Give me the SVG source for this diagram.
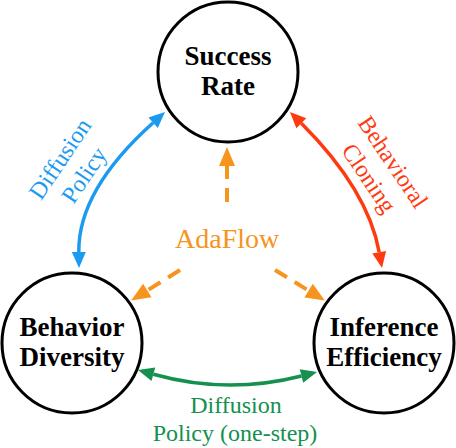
<svg xmlns="http://www.w3.org/2000/svg" width="456" height="448" viewBox="0 0 456 448">
<style>
.node circle{fill:#fff;stroke:#000;stroke-width:3}
.arc{fill:none;stroke-width:3.5}
.dash{fill:none;stroke:#f7941d;stroke-width:4;stroke-dasharray:14 9}
</style>
<defs>
<marker id="mb" markerUnits="userSpaceOnUse" viewBox="0 -7 16 14" refX="0" refY="0" markerWidth="16" markerHeight="14" orient="auto-start-reverse" overflow="visible"><path d="M0,-7 L16,0 L0,7 z" fill="#1a9bf0"/></marker>
<marker id="mr" markerUnits="userSpaceOnUse" viewBox="0 -7 16 14" refX="0" refY="0" markerWidth="16" markerHeight="14" orient="auto-start-reverse" overflow="visible"><path d="M0,-7 L16,0 L0,7 z" fill="#ff3a10"/></marker>
<marker id="mg" markerUnits="userSpaceOnUse" viewBox="0 -7 16 14" refX="0" refY="0" markerWidth="16" markerHeight="14" orient="auto-start-reverse" overflow="visible"><path d="M0,-7 L16,0 L0,7 z" fill="#15904f"/></marker>
<marker id="mo" markerUnits="userSpaceOnUse" viewBox="0 -8 19 16" refX="0" refY="0" markerWidth="19" markerHeight="16" orient="auto" overflow="visible"><path d="M0,-8 L19,0 L0,8 z" fill="#f7941d"/></marker>
</defs>
<g id="connectors">
<path class="arc" stroke="#1a9bf0" d="M153.1,122.7 Q78,190 78.8,252" marker-start="url(#mb)" marker-end="url(#mb)"/>
<path class="arc" stroke="#ff3a10" d="M301.3,123.3 Q368,190 379.2,252.2" marker-start="url(#mr)" marker-end="url(#mr)"/>
<path class="arc" stroke="#15904f" d="M153.4,374.3 Q227,395 301.5,376" marker-start="url(#mg)" marker-end="url(#mg)"/>
<path class="dash" d="M227,202 L227,166" marker-end="url(#mo)"/>
<path class="dash" d="M180,270 L147.3,290.5" marker-end="url(#mo)"/>
<path class="dash" d="M275,270 L308.6,290.6" marker-end="url(#mo)"/>
<g transform="translate(72,167) rotate(-56)"><text font-family="Times New Roman" font-size="24" text-anchor="middle" fill="#1a9bf0"><tspan x="0" y="-6.5">Diffusion</tspan><tspan x="0" y="22.5">Policy</tspan></text></g>
<g transform="translate(381,170) rotate(56)"><text font-family="Times New Roman" font-size="24" text-anchor="middle" fill="#ff3a10"><tspan x="0" y="-6.5">Behavioral</tspan><tspan x="0" y="22.5">Cloning</tspan></text></g>
<text font-family="Times New Roman" font-size="24" text-anchor="middle" fill="#15904f" x="236" y="413">Diffusion</text>
<text font-family="Times New Roman" font-size="24" text-anchor="middle" fill="#15904f" x="235" y="441">Policy (one-step)</text>
<text font-family="Times New Roman" font-size="28" fill="#f7941d" x="175" y="248">AdaFlow</text>
</g>
<g id="success" class="node"><circle cx="228" cy="72" r="70"/><text font-family="Times New Roman" font-weight="bold" font-size="27" text-anchor="middle" x="228" y="65">Success</text><text font-family="Times New Roman" font-weight="bold" font-size="27" text-anchor="middle" x="228" y="95">Rate</text></g>
<g id="diversity" class="node"><circle cx="72" cy="343" r="70"/><text font-family="Times New Roman" font-weight="bold" font-size="27" text-anchor="middle" x="72" y="336">Behavior</text><text font-family="Times New Roman" font-weight="bold" font-size="27" text-anchor="middle" x="72" y="366">Diversity</text></g>
<g id="efficiency" class="node"><circle cx="384" cy="343" r="70"/><text font-family="Times New Roman" font-weight="bold" font-size="27" text-anchor="middle" x="384" y="336">Inference</text><text font-family="Times New Roman" font-weight="bold" font-size="27" text-anchor="middle" x="384" y="366">Efficiency</text></g>
</svg>
